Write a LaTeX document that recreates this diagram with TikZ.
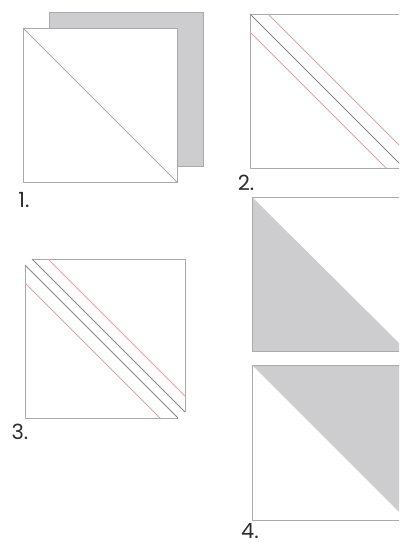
\documentclass[tikz,border=0pt]{standalone}
\usepackage{fontspec}
\setmainfont{Poppins}
\definecolor{edgegray}{RGB}{170,170,173}
\definecolor{fillgray}{RGB}{205,205,207}
\definecolor{cutgray}{RGB}{135,135,145}
\definecolor{seamred}{RGB}{228,165,165}
\definecolor{labelcol}{RGB}{45,45,45}
\tikzset{
  outline/.style={draw=edgegray, line width=0.9bp},
  cutline/.style={draw=cutgray, line width=0.9bp},
  seamline/.style={draw=seamred, line width=0.9bp},
  shaded/.style={fill=fillgray},
  steplabel/.style={text=labelcol, font=\fontsize{21}{24}\selectfont, inner sep=0pt}
}
\begin{document}
\begin{tikzpicture}[x=1bp,y=-1bp]
\useasboundingbox (0,0) rectangle (399,546);
\clip (0,0) rectangle (399,546);
% Panel 1
\fill[fillgray] (49,12) rectangle (203,166);
\draw[outline] (49,12) rectangle (203,166);
\fill[white] (23,28) rectangle (177,182);
\draw[outline] (23,28) rectangle (177,182);
\draw[outline] (23,28) -- (177,182);
\node[steplabel] (l1) at (24,200) {1.};
% Panel 2
\draw[outline] (250,14) rectangle (404,168);
\draw[cutline] (250,14) -- (404,168);
\draw[seamline] (268,14) -- (404,150);
\draw[seamline] (250,32) -- (386,168);
\node[steplabel] (l2) at (246,183) {2.};
% Panel 3
\draw[outline] (25,265) -- (25,418) -- (178,418);
\draw[outline] (32,259) -- (185,259) -- (185,412);
\draw[cutline] (25,265) -- (178,418);
\draw[cutline] (32,259) -- (185,412);
\draw[seamline] (48,259) -- (185,396);
\draw[seamline] (25,283) -- (160,418);
\node[steplabel] (l3) at (20,432) {3.};
% Panel 4 upper
\fill[fillgray] (252,197) -- (252,351) -- (407,351) -- cycle;
\draw[outline] (252,197) rectangle (407,351);
% Panel 4 lower
\fill[fillgray] (252,365) -- (407,365) -- (407,520) -- cycle;
\draw[outline] (252,365) rectangle (407,520);
\node[steplabel] (l4) at (250,531) {4.};
\end{tikzpicture}
\end{document}
